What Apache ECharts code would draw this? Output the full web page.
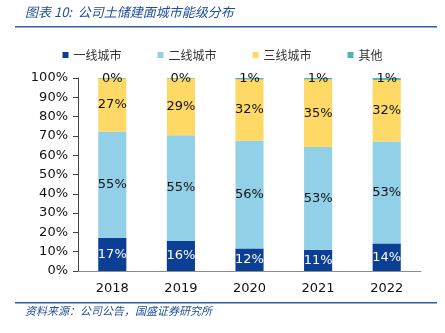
<!DOCTYPE html>
<html><head><meta charset="utf-8">
<script src="https://cdn.jsdelivr.net/npm/echarts@6/dist/echarts.min.js"></script>
<style>html,body{margin:0;padding:0;background:#fff}#c{width:445px;height:333px}</style>
</head><body><div id="c"></div>
<script>
const categories = ['2018','2019','2020','2021','2022'];
const tier1 = [17.2,15.6,11.7,11.0,14.3];
const tier2 = [55.1,54.7,55.8,53.2,52.8];
const tier3 = [27.4,29.4,31.8,35.1,31.9];
const other = [0.3,0.3,0.7,0.7,1.0];
const yTicks = [0,10,20,30,40,50,60,70,80,90,100];
const seriesNames = ['一线城市','二线城市','三线城市','其他'];
const colors = ['#0B3F96','#92D0E8','#FFD966','#4DB6B3'];
const labelColors = ['#fff','#111','#111','#111'];
const dataSets = [tier1,tier2,tier3,other];

const chart = echarts.init(document.getElementById('c'));
const font = '"DejaVu Sans","Noto Sans CJK SC",sans-serif';
chart.setOption({
  animation:false,
  textStyle:{fontFamily:font},
  grid:{left:78,right:24,top:78,bottom:62},
  legend:{
    top:44,left:'center',itemWidth:6,itemHeight:6,itemGap:36,icon:'rect',
    textStyle:{fontSize:12,color:'#333',fontFamily:'"Noto Sans CJK SC",sans-serif'},
    data:seriesNames
  },
  xAxis:{type:'category',data:categories,
    axisLine:{lineStyle:{color:'#8c8c8c'}},
    axisTick:{inside:true,length:4,lineStyle:{color:'#444'}},
    axisLabel:{fontSize:13,color:'#111',margin:11}},
  yAxis:{type:'value',min:0,max:100,interval:10,
    axisLine:{show:true,lineStyle:{color:'#444'}},
    axisTick:{show:true,length:5,lineStyle:{color:'#444'}},
    splitLine:{show:false},
    axisLabel:{fontSize:13,color:'#111',margin:10,formatter:v=>yTicks.includes(v)?v+'%':''}},
  series:dataSets.map((d,i)=>({
    name:seriesNames[i],type:'bar',stack:'s',data:d,barWidth:'41%',
    itemStyle:{color:colors[i]},
    label:{show:true,position:'inside',color:labelColors[i],fontSize:13,
      formatter:p=>Math.round(p.value)+'%'}
  })),
  graphic:[
    {type:'text',left:25,top:6,style:{text:'图表 10:  公司土储建面城市能级分布',font:'italic 13px "Noto Sans CJK SC",sans-serif',fill:'#1F4E9A'}},
    {type:'rect',shape:{x:15,y:26,width:422,height:1.5},style:{fill:'#2E5FA8'}},
    {type:'rect',shape:{x:15,y:302,width:422,height:1.5},style:{fill:'#2E5FA8'}},
    {type:'text',left:25,top:305,style:{text:'资料来源：公司公告，国盛证券研究所',font:'italic 11px "Noto Sans CJK SC",sans-serif',fill:'#1F4E9A'}}
  ]
});
</script></body></html>
